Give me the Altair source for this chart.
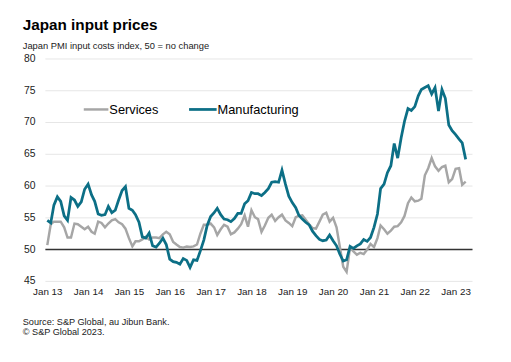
import altair as alt
import pandas as pd

FONT = "Liberation Sans"

TITLE = "Japan input prices"
SUBTITLE = "Japan PMI input costs index, 50 = no change"
SOURCE_1 = "Source: S&P Global, au Jibun Bank."
SOURCE_2 = "© S&P Global 2023."

START = "2013-01-01"

services = [
    50.7, 54.0, 54.4, 54.4, 54.4, 53.5, 51.9, 51.9, 54.1, 54.0, 53.6, 53.2,
    53.6, 52.8, 52.5, 54.4, 54.2, 53.5, 54.1, 54.6, 54.8, 54.3, 54.0, 53.3,
    51.8, 50.5, 51.3, 51.3, 51.6, 52.0, 51.6, 51.9, 51.9, 51.8, 52.4, 52.8,
    52.4, 51.2, 50.8, 50.4, 50.3, 50.5, 50.4, 50.5, 50.8, 52.5, 53.9, 53.9,
    54.1, 53.5, 52.3, 53.2, 53.9, 53.6, 52.4, 52.7, 53.3, 54.0, 55.4, 53.6,
    56.2, 55.1, 54.8, 52.8, 53.8, 55.0, 55.5, 54.5, 55.1, 55.5, 54.6, 54.2,
    53.7, 55.1, 55.3, 55.4, 54.7, 54.0, 53.4, 53.3, 54.4, 55.5, 55.8, 54.4,
    55.0, 53.5, 50.5, 47.3, 46.5, 50.3, 49.7, 49.2, 49.5, 49.3, 50.0, 50.9,
    50.4, 51.8, 53.8, 53.2, 52.5, 53.0, 53.6, 53.7, 54.3, 55.3, 57.3, 58.2,
    57.6, 57.7, 58.0, 61.7, 62.8, 64.4, 63.1, 62.4, 63.0, 63.2, 60.6, 61.1,
    62.7, 62.8, 60.2, 60.7,
]

manufacturing = [
    54.6, 54.2, 57.0, 58.3, 57.6, 55.3, 54.6, 58.2, 57.8, 56.8, 57.5, 59.5,
    60.3, 58.6, 57.6, 55.6, 55.4, 55.5, 56.8, 55.8, 56.2, 57.8, 59.3, 59.9,
    56.5, 56.2, 55.5, 54.3, 52.0, 51.8, 52.6, 50.6, 50.4, 51.0, 51.8, 50.8,
    48.5, 48.1, 48.0, 47.7, 48.6, 48.3, 47.2, 48.4, 48.3, 49.8, 51.5, 53.8,
    55.2, 55.8, 56.5, 55.5, 54.8, 54.7, 54.4, 54.9, 55.7, 55.7, 57.2, 57.7,
    59.0, 58.8, 58.8, 58.5, 59.0, 59.6, 60.6, 60.7, 60.6, 62.5, 60.3, 58.4,
    57.4, 56.6, 55.4, 54.8, 54.3, 53.9, 52.9, 52.2, 51.6, 51.4, 51.5, 52.3,
    51.4, 50.6, 49.3, 48.2, 48.4, 50.5, 50.2, 50.6, 50.9, 51.6, 51.3, 51.9,
    53.5, 55.6, 59.6, 60.3, 62.1, 63.2, 66.7, 64.4, 67.6, 70.2, 72.2, 71.9,
    72.5, 74.2, 75.2, 75.5, 75.8, 74.5, 75.5, 71.8, 75.2, 73.8, 69.6, 68.7,
    68.1, 67.4, 66.8, 64.2,
]

y_ticks = [45, 50, 55, 60, 65, 70, 75, 80]
tick_years = list(range(2013, 2024))
series_names = ["Services", "Manufacturing"]
series_colors = ["#A6A6A6", "#0C6F86"]

months = pd.date_range(START, periods=len(services), freq="MS")
n = len(months)
df = pd.DataFrame({
    "date": list(months) * 2,
    "value": services + manufacturing,
    "series": [series_names[0]] * n + [series_names[1]] * n,
})

y_scale = alt.Scale(domain=[45, 80], nice=False, zero=False)

x_enc = alt.X(
    "date:T",
    scale=alt.Scale(domain=[alt.DateTime(year=2012, month=12, date=15),
                            alt.DateTime(year=2023, month=6, date=1)]),
    axis=alt.Axis(
        values=[alt.DateTime(year=y, month=1, date=1) for y in tick_years],
        format="%b %y", title=None, grid=False, domain=False, ticks=False,
        labelPadding=5, labelFontSize=10, labelFont=FONT, labelColor="#222222",
        labelFlush=False, labelOverlap=False,
    ),
)

ticks_df = pd.DataFrame({"tick": y_ticks, "label": [str(t) for t in y_ticks]})

gridlines = alt.Chart(ticks_df).mark_rule(color="#E6E6E6", strokeWidth=1).encode(
    y=alt.Y("tick:Q", scale=y_scale, axis=None)
)
ylabels = alt.Chart(ticks_df).mark_text(
    align="right", baseline="middle", fontSize=10.5, font=FONT, color="#222222"
).encode(
    y=alt.Y("tick:Q", scale=y_scale, axis=None),
    x=alt.value(-10),
    text="label:N",
)

base = alt.Chart(df)

rule50 = alt.Chart(pd.DataFrame({"v": [50]})).mark_rule(
    color="#333333", strokeWidth=1.5
).encode(y=alt.Y("v:Q", scale=y_scale, axis=None))

serv = base.transform_filter(alt.datum.series == series_names[0]).mark_line(
    color=series_colors[0], strokeWidth=2.5
).encode(x=x_enc, y=alt.Y("value:Q", scale=y_scale, axis=None))

manu = base.transform_filter(alt.datum.series == series_names[1]).mark_line(
    color=series_colors[1], strokeWidth=2.8
).encode(x=x_enc, y=alt.Y("value:Q", scale=y_scale, axis=None))

one = pd.DataFrame({"k": [0]})

leg_s_line = alt.Chart(one).mark_rule(color=series_colors[0], strokeWidth=2.5).encode(
    x=alt.value(39), x2=alt.value(64), y=alt.value(51.3))
leg_m_line = alt.Chart(one).mark_rule(color=series_colors[1], strokeWidth=2.8).encode(
    x=alt.value(146), x2=alt.value(174), y=alt.value(51.3))
leg_s_txt = alt.Chart(pd.DataFrame({"t": [series_names[0]]})).mark_text(
    align="left", baseline="middle", fontSize=13, font=FONT, color="#000000"
).encode(x=alt.value(65), y=alt.value(51.5), text="t:N")
leg_m_txt = alt.Chart(pd.DataFrame({"t": [series_names[1]]})).mark_text(
    align="left", baseline="middle", fontSize=13, font=FONT, color="#000000"
).encode(x=alt.value(175), y=alt.value(51.5), text="t:N")

title = alt.Chart(pd.DataFrame({"t": [TITLE]})).mark_text(
    align="left", baseline="alphabetic", fontSize=15.5, fontWeight="bold",
    font=FONT, color="#000000"
).encode(x=alt.value(-23), y=alt.value(-29), text="t:N")
subtitle = alt.Chart(pd.DataFrame({"t": [SUBTITLE]})).mark_text(
    align="left", baseline="alphabetic", fontSize=9.5, font=FONT, color="#222222"
).encode(x=alt.value(-23), y=alt.value(-10), text="t:N")
src1 = alt.Chart(pd.DataFrame({"t": [SOURCE_1]})).mark_text(
    align="left", baseline="alphabetic", fontSize=9.3, font=FONT, color="#222222"
).encode(x=alt.value(-23), y=alt.value(270.3), text="t:N")
src2 = alt.Chart(pd.DataFrame({"t": [SOURCE_2]})).mark_text(
    align="left", baseline="alphabetic", fontSize=9.3, font=FONT, color="#222222"
).encode(x=alt.value(-23), y=alt.value(280.3), text="t:N")

chart = alt.layer(
    gridlines, ylabels, rule50, serv, manu, leg_s_line, leg_m_line,
    leg_s_txt, leg_m_txt, title, subtitle, src1, src2,
).properties(
    width=434, height=226,
    autosize=alt.AutoSizeParams(type="none"),
    padding={"left": 38, "top": 49, "right": 31, "bottom": 71},
    background="white",
).configure_view(stroke=None)

chart.save("out.html", embed_options={"renderer": "svg", "actions": False})
